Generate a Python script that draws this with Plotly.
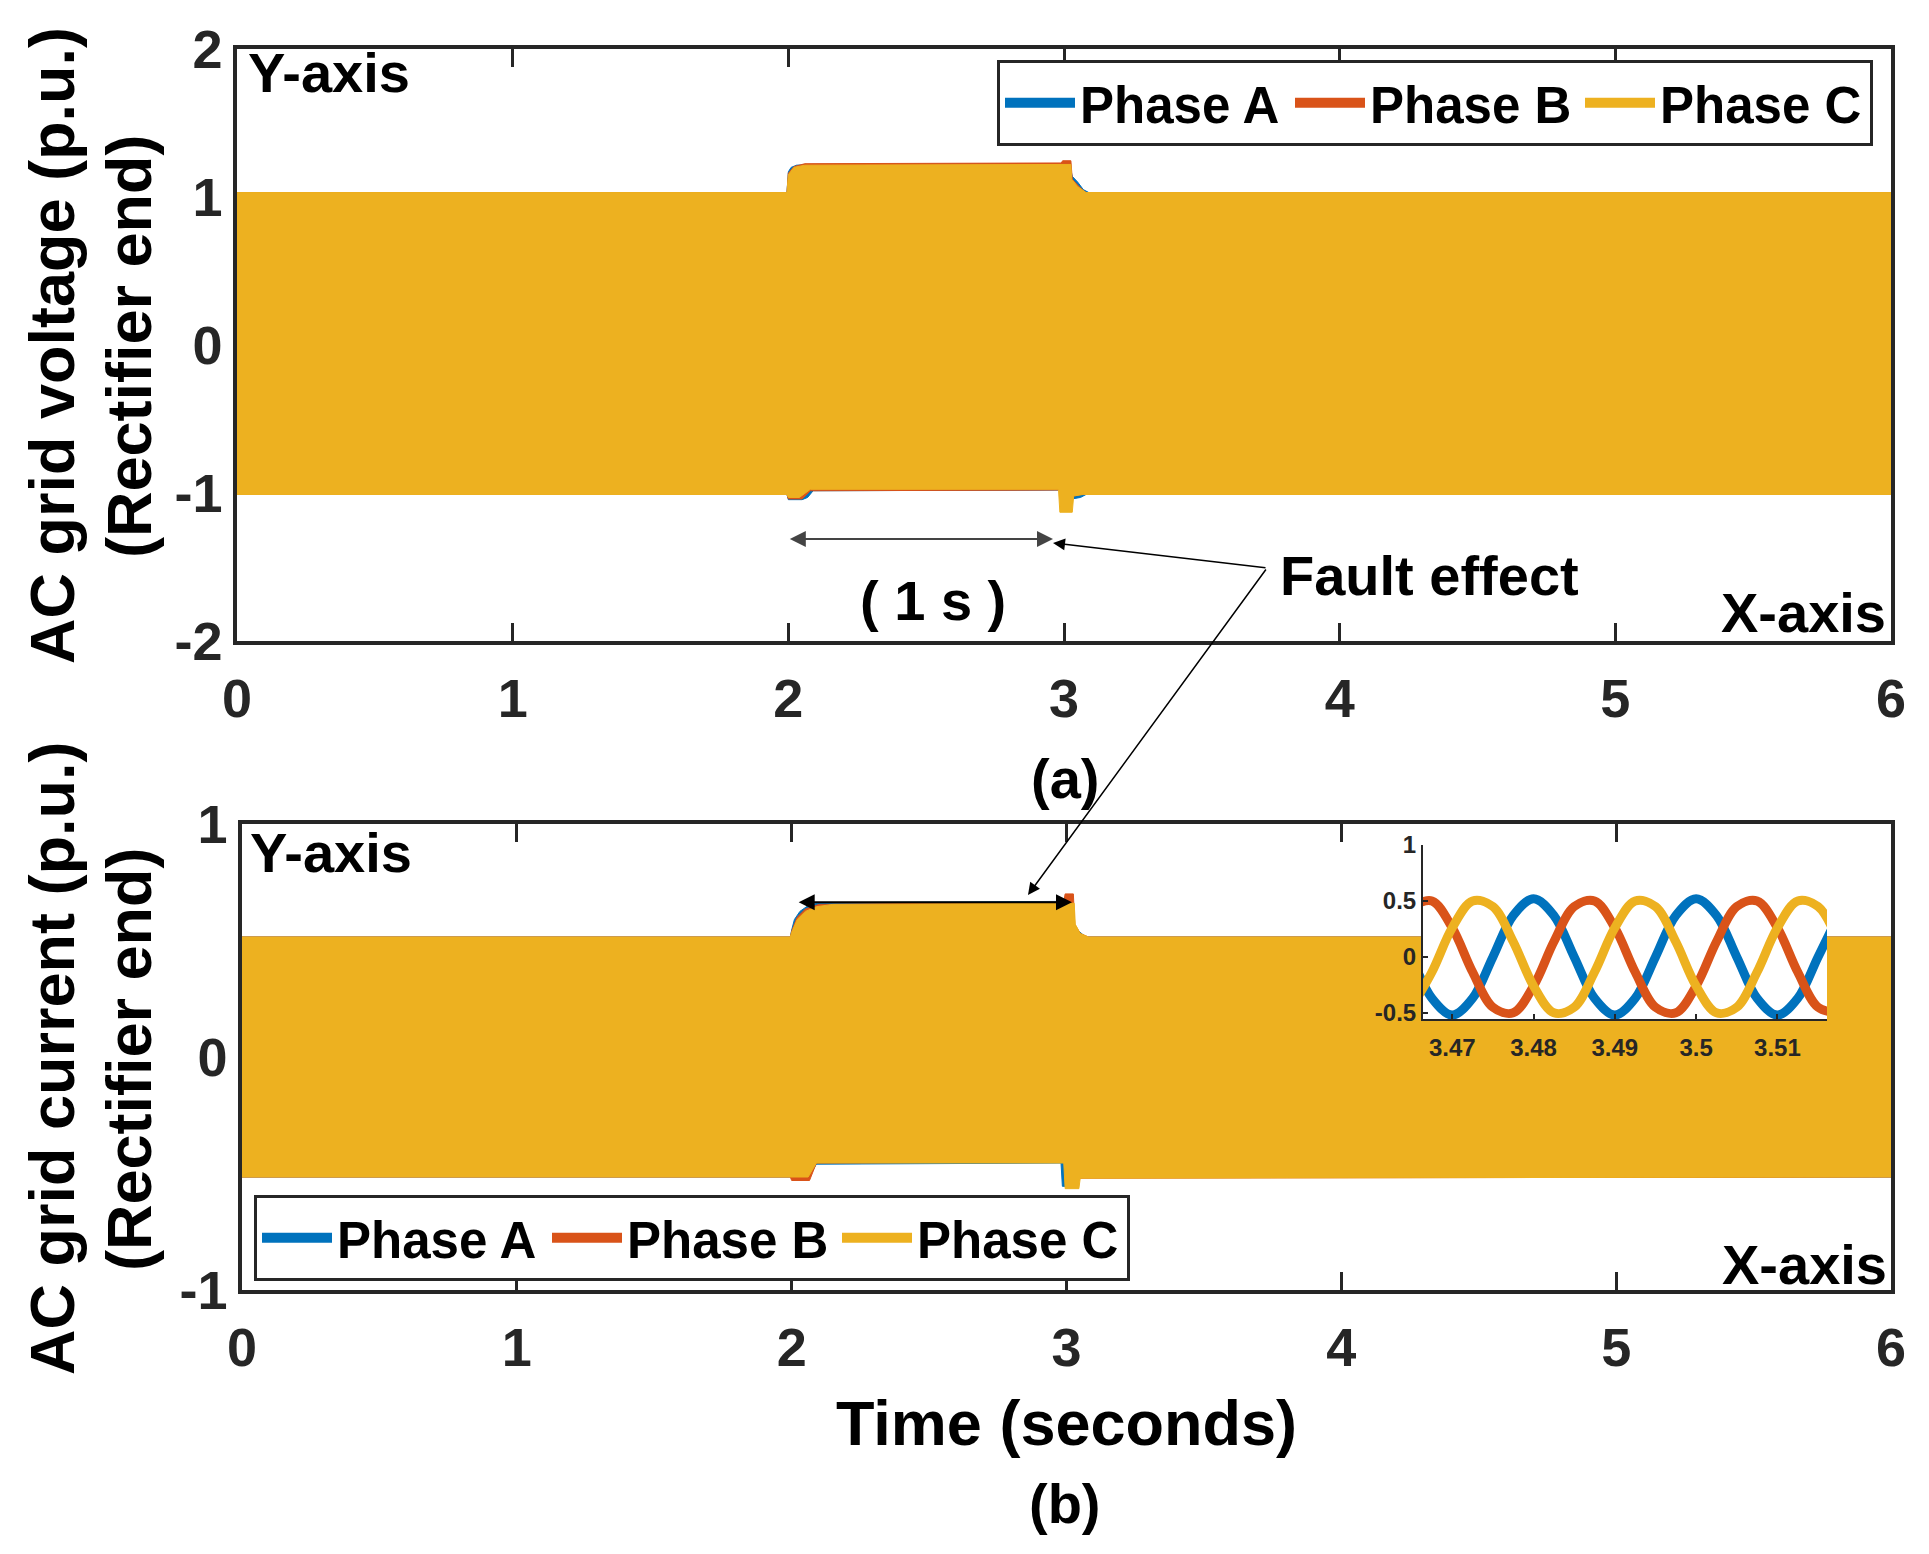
from plotly import graph_objects as go

W, H = 1929, 1554
PAGE_OFFSET = 8  # the html body margin shifts the figure by this many pixels

COLORS = ["#0072BD", "#D95319", "#EDB120"]
PHASES = ["Phase A", "Phase B", "Phase C"]
FONT = "Liberation Sans"
AXIS_GREY = "#262626"

# --- (a) AC grid voltage envelope (p.u.) ---
va_up_t = [0, 1.995, 2.0, 2.01, 2.03, 2.08, 2.98, 3.02, 3.03, 3.05, 3.07, 3.09, 6]
va_up_v = [1.03, 1.03, 1.17, 1.20, 1.215, 1.22, 1.225, 1.225, 1.14, 1.10, 1.05, 1.03, 1.03]
va_lo_t = [0, 1.995, 2.0, 2.05, 2.07, 2.09, 2.98, 3.02, 3.03, 3.06, 3.08, 6]
va_lo_v = [-1.01, -1.01, -1.045, -1.045, -1.03, -0.985, -0.98, -0.985, -1.04, -1.03, -1.01, -1.01]

vb_up_t = [0, 1.995, 2.0, 2.02, 2.06, 2.99, 2.995, 3.025, 3.03, 3.06, 3.08, 6]
vb_up_v = [1.03, 1.03, 1.16, 1.205, 1.225, 1.23, 1.245, 1.245, 1.12, 1.06, 1.03, 1.03]
vb_lo_t = [0, 1.995, 2.0, 2.05, 2.08, 2.98, 3.0, 3.04, 3.06, 6]
vb_lo_v = [-1.01, -1.01, -1.04, -1.04, -0.985, -0.98, -0.99, -1.02, -1.01, -1.01]

vc_up_t = [0, 1.995, 2.0, 2.02, 2.06, 2.98, 3.025, 3.028, 3.05, 3.08, 6]
vc_up_v = [1.03, 1.03, 1.15, 1.20, 1.215, 1.22, 1.22, 1.12, 1.07, 1.03, 1.03]
vc_lo_t = [0, 1.995, 2.0, 2.04, 2.08, 2.98, 2.985, 3.03, 3.035, 3.07, 6]
vc_lo_v = [-1.01, -1.01, -1.03, -1.03, -0.975, -0.975, -1.13, -1.13, -1.02, -1.01, -1.01]

# --- (b) AC grid current envelope (p.u.) ---
ia_up_t = [0, 1.995, 2.0, 2.01, 2.03, 2.06, 2.1, 2.98, 3.0, 3.01, 3.04, 3.07, 6]
ia_up_v = [0.515, 0.515, 0.545, 0.59, 0.625, 0.65, 0.662, 0.668, 0.668, 0.60, 0.545, 0.515, 0.515]
ia_lo_t = [0, 1.995, 2.0, 2.06, 2.09, 2.98, 2.985, 3.0, 3.005, 3.04, 6]
ia_lo_v = [-0.515, -0.515, -0.52, -0.52, -0.46, -0.455, -0.555, -0.555, -0.53, -0.515, -0.515]

ib_up_t = [0, 1.995, 2.0, 2.02, 2.05, 2.1, 2.99, 2.995, 3.025, 3.03, 3.05, 3.08, 6]
ib_up_v = [0.515, 0.515, 0.54, 0.60, 0.635, 0.655, 0.665, 0.70, 0.70, 0.57, 0.53, 0.515, 0.515]
ib_lo_t = [0, 1.995, 2.0, 2.065, 2.09, 2.98, 3.0, 3.04, 6]
ib_lo_v = [-0.515, -0.515, -0.53, -0.53, -0.455, -0.45, -0.46, -0.52, -0.515]

ic_up_t = [0, 1.995, 2.0, 2.02, 2.05, 2.09, 2.15, 2.98, 3.028, 3.032, 3.05, 3.08, 6]
ic_up_v = [0.515, 0.515, 0.535, 0.59, 0.625, 0.645, 0.655, 0.66, 0.66, 0.57, 0.53, 0.515, 0.515]
ic_lo_t = [0, 1.995, 2.0, 2.06, 2.09, 2.99, 2.995, 3.045, 3.05, 6]
ic_lo_v = [-0.515, -0.515, -0.515, -0.515, -0.455, -0.455, -0.565, -0.565, -0.52, -0.515]

# --- inset: zoom on the current around t = 3.49 s ---
inset_t = [3.465, 3.4675, 3.47, 3.4725, 3.475, 3.4775, 3.48, 3.4825, 3.485, 3.4875, 3.49,
           3.4925, 3.495, 3.4975, 3.5, 3.5025, 3.505, 3.5075, 3.51, 3.5125, 3.515, 3.5175]
inset_a = [0.0, -0.37, -0.52, -0.37, 0.0, 0.37, 0.52, 0.37, 0.0, -0.37, -0.52,
           -0.37, 0.0, 0.37, 0.52, 0.37, 0.0, -0.37, -0.52, -0.37, 0.0, 0.37]
inset_b = [0.45, 0.50, 0.26, -0.135, -0.45, -0.50, -0.26, 0.135, 0.45, 0.50, 0.26,
           -0.135, -0.45, -0.50, -0.26, 0.135, 0.45, 0.50, 0.26, -0.135, -0.45, -0.50]
inset_c = [-0.45, -0.135, 0.26, 0.50, 0.45, 0.135, -0.26, -0.50, -0.45, -0.135, 0.26,
           0.50, 0.45, 0.135, -0.26, -0.50, -0.45, -0.135, 0.26, 0.50, 0.45, 0.135]

x_ticks = [0, 1, 2, 3, 4, 5, 6]
v_ticks = [-2, -1, 0, 1, 2]
v_ticktext = ["-2", "-1", "0", "1", "2"]
i_ticks = [-1, 0, 1]
i_ticktext = ["-1", "0", "1"]
inset_xticks = [3.47, 3.48, 3.49, 3.5, 3.51]
inset_xticktext = ["3.47", "3.48", "3.49", "3.5", "3.51"]
inset_yticks = [-0.5, 0, 0.5, 1]
inset_yticktext = ["-0.5", "0", "0.5", "1"]


def px(x):
    return (x - PAGE_OFFSET) / W


def py(y):
    return 1 - (y - PAGE_OFFSET) / H


def band(up_t, up_v, lo_t, lo_v):
    return list(up_t) + list(reversed(lo_t)), list(up_v) + list(reversed(lo_v))


def bold(size, color="black"):
    return dict(family=FONT, size=size, color=color, weight="bold")


fig = go.Figure()

panels = [
    ("x", "y", [(va_up_t, va_up_v, va_lo_t, va_lo_v),
                (vb_up_t, vb_up_v, vb_lo_t, vb_lo_v),
                (vc_up_t, vc_up_v, vc_lo_t, vc_lo_v)]),
    ("x2", "y2", [(ia_up_t, ia_up_v, ia_lo_t, ia_lo_v),
                  (ib_up_t, ib_up_v, ib_lo_t, ib_lo_v),
                  (ic_up_t, ic_up_v, ic_lo_t, ic_lo_v)]),
]
for xa, ya, envelopes in panels:
    for i, env in enumerate(envelopes):
        bx, by = band(*env)
        fig.add_trace(go.Scatter(
            x=bx, y=by, xaxis=xa, yaxis=ya, mode="lines", fill="toself",
            fillcolor=COLORS[i], line=dict(color=COLORS[i], width=1),
            hoverinfo="skip", showlegend=False,
        ))

for i, vals in enumerate([inset_a, inset_b, inset_c]):
    fig.add_trace(go.Scatter(
        x=inset_t, y=vals, xaxis="x3", yaxis="y3", mode="lines",
        line=dict(color=COLORS[i], width=9, shape="spline"),
        showlegend=False,
    ))

# legend entries for both panels
for leg in ["legend", "legend2"]:
    for i, name in enumerate(PHASES):
        fig.add_trace(go.Scatter(
            x=[None], y=[None], mode="lines", name=name, legend=leg,
            line=dict(color=COLORS[i], width=10),
        ))

main_axis = dict(
    showline=True, linewidth=3.5, linecolor=AXIS_GREY, mirror="ticks",
    ticks="inside", ticklen=18, tickwidth=3, tickcolor=AXIS_GREY,
    showgrid=False, zeroline=False, tickfont=bold(54, AXIS_GREY),
    layer="below traces", automargin=False,
)
inset_axis = dict(
    showline=True, linewidth=2, linecolor=AXIS_GREY, mirror=False,
    ticks="inside", ticklen=5, tickwidth=1.5, tickcolor=AXIS_GREY,
    showgrid=False, zeroline=False, tickfont=bold(24, AXIS_GREY),
    automargin=False,
)

legend_style = dict(
    orientation="h", xanchor="left", yanchor="top",
    bgcolor="white", bordercolor=AXIS_GREY, borderwidth=3,
    font=bold(51), itemwidth=70, entrywidth=205, entrywidthmode="pixels",
    tracegroupgap=0,
)

fig.update_layout(
    width=W, height=H,
    margin=dict(l=0, r=0, t=0, b=0, autoexpand=False),
    paper_bgcolor="white", plot_bgcolor="white",
    xaxis=dict(main_axis, domain=[px(237), px(1891)], range=[0, 6],
               tickvals=x_ticks, anchor="y", ticklabelstandoff=7),
    yaxis=dict(main_axis, domain=[py(641), py(49)], range=[-2, 2],
               tickvals=v_ticks, ticktext=v_ticktext, anchor="x"),
    xaxis2=dict(main_axis, domain=[px(242), px(1891)], range=[0, 6],
                tickvals=x_ticks, anchor="y2", ticklabelstandoff=7),
    yaxis2=dict(main_axis, domain=[py(1290), py(824)], range=[-1, 1],
                tickvals=i_ticks, ticktext=i_ticktext, anchor="x2"),
    xaxis3=dict(inset_axis, domain=[px(1423), px(1827)], range=[3.4664, 3.5161],
                tickvals=inset_xticks, ticktext=inset_xticktext, anchor="y3",
                ticklabelstandoff=6),
    yaxis3=dict(inset_axis, domain=[py(1019), py(845)], range=[-0.555, 1.0],
                tickvals=inset_yticks, ticktext=inset_yticktext, anchor="x3"),
    legend=dict(legend_style, x=px(997), y=py(60)),
    legend2=dict(legend_style, x=px(254), y=py(1195)),
)

arrow = dict(showarrow=True, arrowhead=2, arrowsize=1.6, arrowwidth=2,
             arrowcolor="black", text="")
annotations = [
    dict(text="Y-axis", x=px(246), y=py(73), xanchor="left"),
    dict(text="X-axis", x=px(1888), y=py(613), xanchor="right"),
    dict(text="Y-axis", x=px(248), y=py(853), xanchor="left"),
    dict(text="X-axis", x=px(1889), y=py(1264), xanchor="right"),
    dict(text="( 1 s )", x=px(933), y=py(600)),
    dict(text="Fault effect", x=px(1278), y=py(575), xanchor="left"),
    dict(text="(a)", x=px(1065), y=py(778)),
    dict(text="(b)", x=px(1065), y=py(1503)),
]
for a in annotations:
    fig.add_annotation(xref="paper", yref="paper", yanchor="middle",
                       showarrow=False, font=bold(56), **a)

# axis titles, one annotation per line
titles = [
    dict(text="AC grid voltage (p.u.)", x=px(52), y=py(346), textangle=-90),
    dict(text="(Rectifier end)", x=px(129), y=py(346), textangle=-90),
    dict(text="AC grid current (p.u.)", x=px(52), y=py(1059), textangle=-90),
    dict(text="(Rectifier end)", x=px(129), y=py(1059), textangle=-90),
    dict(text="Time (seconds)", x=px(1066), y=py(1423)),
]
for t in titles:
    fig.add_annotation(xref="paper", yref="paper", xanchor="center", yanchor="middle",
                       showarrow=False, font=bold(63), **t)

# 1 s double arrows on both panels
fig.add_annotation(arrow, x=2.96, y=-1.31, ax=2.0, ay=-1.31, xref="x", yref="y",
                   axref="x", ayref="y", arrowside="end+start", arrowcolor="#444444")
fig.add_annotation(arrow, x=3.02, y=0.664, ax=2.02, ay=0.664, xref="x2", yref="y2",
                   axref="x2", ayref="y2", arrowside="end+start")
# pointers from the "Fault effect" label
fig.add_annotation(arrow, x=px(1053), y=py(543), xref="paper", yref="paper",
                   ax=214, ay=25, arrowwidth=1.5)
fig.add_annotation(arrow, x=px(1028), y=py(895), xref="paper", yref="paper",
                   ax=239, ay=-327, arrowwidth=1.5)

fig.write_html("out.html")
